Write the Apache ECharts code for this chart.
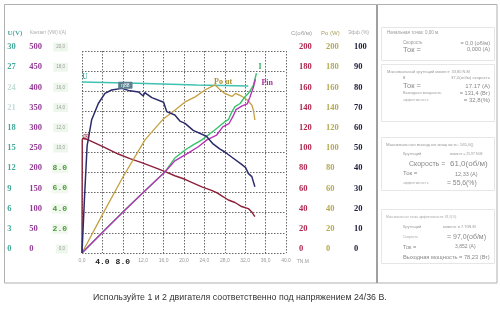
<!DOCTYPE html>
<html><head><meta charset="utf-8">
<script src="https://cdn.jsdelivr.net/npm/echarts@6/dist/echarts.min.js"></script>
<style>html,body{margin:0;padding:0;background:#fff}#c{width:500px;height:311px}</style>
</head><body><div id="c"></div>
<script>
// ---- tick labels ----
const xTicks   = ['0,0','4.0','8.0','12,0','16,0','20,0','24,0','28,0','32,0','36,0','40.0'];
const xBold    = [false,true,true,false,false,false,false,false,false,false,false];
const uTicks   = ['0','3','6','9','12','15','18','21','24','27','30'];
const uFaded   = [false,false,false,false,false,false,false,true,true,false,false];
const pinTicks = ['0','50','100','150','200','250','300','350','400','450','500'];
const iTicks   = ['0,0','2.0','4.0','6.0','8.0','10,0','12,0','14,0','16,0','18,0','20,0'];
const iBold    = [false,true,true,true,true,false,false,false,false,false,false];
const cTicks   = ['0','20','40','60','80','100','120','140','160','180','200'];
const poTicks  = ['0','20','40','60','80','100','120','140','160','180','200'];
const effTicks = ['0','10','20','30','40','50','60','70','80','90','100'];

// ---- series values (torque N.M -> value) ----
const uT   = [0, 10.7, 22.5, 32.6];
const uV   = [25.4, 25.2, 24.95, 24.8];
const effT = [0, 0.5, 1.0, 1.9, 3.2, 4.5, 5.8, 7.8, 9.1, 11.1, 12.0, 12.3, 13.7, 16.0, 16.3, 16.6, 18.2, 19.2, 20.2, 21.8, 24.4, 25.7, 27.0, 28.0, 29.4, 31.3, 32.1, 32.3, 32.6, 33.3, 33.9];
const effV = [0, 28, 53, 66, 74, 79, 80.7, 81.5, 80.5, 79.7, 77.7, 79.4, 76.9, 74.6, 75.4, 70, 68.3, 65.3, 64.2, 60.7, 57.8, 54, 51.5, 50, 47.4, 43.9, 42.2, 42.7, 39.4, 37.8, 32.8];
const cT   = [0, 0.05, 0.25, 1.0, 2.5, 4.2, 7.1, 9.4, 11.7, 14.3, 16.3, 18.2, 20.2, 21.5, 23.5, 25.4, 26.5, 27.4, 28.7, 30.0, 31.3, 32.6, 33.3, 33.9];
const cV   = [0, 112, 114, 112.5, 109, 105, 98, 93.5, 89.5, 84.5, 80.5, 76.5, 73, 70, 65.5, 62, 59.5, 56.5, 52.5, 50, 46, 44, 40.5, 36];
const poT  = [0, 4, 8, 12.35, 16.0, 18.2, 20.2, 22.2, 24.1, 25.4, 26.1, 27.0, 28.0, 29.4, 30.1, 31.4, 32.4, 33.3, 33.6, 33.9];
const poV  = [0, 38, 75, 112, 133, 141.3, 149.6, 154.6, 161.4, 164.7, 166.4, 162, 158, 155, 158, 155, 151.5, 146.5, 141.6, 131.7];
const iT   = [0, 4, 8, 12, 16.3, 18.2, 20.2, 21.8, 23.5, 26.1, 28.0, 28.7, 29.4, 30.0, 31.0, 32.0, 32.6, 32.9, 33.6, 34.2];
const iV   = [0, 2.05, 4.05, 6.0, 8.05, 9.4, 10.2, 10.7, 11.2, 12.2, 13.0, 13.2, 14.0, 14.5, 14.8, 15.5, 15.8, 16.0, 16.6, 17.8];
const pinT = [0, 4, 8, 12, 16.3, 18.2, 20.8, 22.8, 24.5, 26.4, 27.6, 28.8, 29.6, 30.2, 31.4, 32.4, 32.9, 33.6, 34.0];
const pinV = [0, 51, 101, 150, 201, 228, 247, 263, 280, 292, 312, 320, 338, 355, 364, 369, 385, 410, 430];

const zip = (a, b) => a.map((t, i) => [t, b[i]]);
const mono = 'Liberation Mono', serif = 'Liberation Serif', sans = 'Liberation Sans';

function yAx(pos, max, interval, ticks, margin, align, style, split) {
  return {
    type: 'value', position: pos, min: 0, max: max, interval: interval,
    axisLine: {show: false}, axisTick: {show: false},
    splitLine: split ? {show: true, lineStyle: {color: '#666', type: [1.5, 1.5], width: 1}} : {show: false},
    axisLabel: Object.assign({
      margin: margin, align: align, verticalAlign: 'bottom', lineHeight: 8,
      formatter: (v) => ticks[Math.round(v / interval)]
    }, style)
  };
}

const uStyle = {
  fontFamily: serif, fontWeight: 'bold', fontSize: 8.5, color: '#45a89a',
  formatter: (v) => { const k = Math.round(v / 3); return uFaded[k] ? '{f|' + uTicks[k] + '}' : uTicks[k]; },
  rich: {f: {fontFamily: serif, fontWeight: 'bold', fontSize: 8.5, color: '#c4dcd8'}}
};

const iStyle = {
  formatter: (v) => { const k = Math.round(v / 2); return iBold[k] ? '{b|' + iTicks[k] + '}' : '{s|' + iTicks[k] + '}'; },
  rich: {
    b: {fontFamily: mono, fontWeight: 'bold', fontSize: 8, color: '#4c9a3c', backgroundColor: '#f1f9ef', padding: [1, 1]},
    s: {fontFamily: sans, fontSize: 4.5, color: '#9a9a9a', backgroundColor: '#eef7ec', padding: [2, 3]}
  }
};

const chart = echarts.init(document.getElementById('c'), null, {renderer: 'canvas'});
const txt = (t, x, y, size, fill, extra) => ({type: 'text', x: x, y: y, style: Object.assign({text: t, fontSize: size, fill: fill, fontFamily: sans, verticalAlign: 'middle'}, extra || {})});
const rtx = (t, x, y, size, fill) => txt(t, x, y, size, fill, {align: 'right'});
const rect = (x, y, w, h, stroke, lw) => ({type: 'rect', shape: {x: x, y: y, width: w, height: h}, style: {fill: 'none', stroke: stroke, lineWidth: lw || 1}});

const graphics = [
  rect(4.5, 4.5, 492.5, 278.5, '#b0b0b0', 1),
  {type: 'line', shape: {x1: 377, y1: 5, x2: 377, y2: 283}, style: {stroke: '#a0a0a0', lineWidth: 2}},
  rect(381.5, 27.5, 113, 33, '#e6e6e6'),
  rect(381.5, 64.5, 113, 57, '#e6e6e6'),
  rect(381.5, 137.5, 113, 53, '#e6e6e6'),
  rect(381.5, 209.5, 113, 54, '#e6e6e6'),
  // headers
  txt('U(V)', 7.5, 33, 7, '#4aa8a0', {fontFamily: serif, fontWeight: 'bold'}),
  txt('Контакт (VW) I(A)', 30, 33, 4.5, '#aaaaaa'),
  txt('C(об/м)', 291, 33, 6, '#999999'),
  txt('Po (W)', 321, 33, 6, '#a9a060'),
  txt('Эфф (%)', 348, 33, 5, '#aaaaaa'),
  // caption
  txt('Используйте 1 и 2 двигателя соответственно под напряжением 24/36 В.', 93, 298, 8.8, '#333333'),
  // right panel box 1
  txt('Начальная точка: 0,00 м.', 387, 33, 4.5, '#999'),
  txt('Скорость', 403, 43, 4.5, '#999'),
  rtx('= 0,0 (об/м)', 490, 43, 5.6, '#888'),
  txt('Ток =', 403, 49.5, 7.5, '#888'),
  rtx('0,000 (A)', 490, 49.5, 5.6, '#888'),
  // box 2
  txt('Максимальный крутящий момент: 33,80 N.M', 387, 72, 4, '#999'),
  txt('в', 403, 78, 4.5, '#999'),
  rtx('37,0(об/м) скорость', 490, 78, 4.3, '#999'),
  txt('Ток =', 403, 86, 7.5, '#888'),
  rtx('17.17 (A)', 490, 86, 6, '#888'),
  txt('Выходная мощность', 403, 93, 4, '#999'),
  rtx('= 131,4 (Вт)', 490, 93, 5.6, '#888'),
  txt('эффективность', 403, 100, 3.5, '#aaa'),
  rtx('= 32,8(%)', 490, 100, 6, '#888'),
  // box 3
  txt('Максимальная выходная мощность: 165,6()', 386, 145, 4.3, '#999'),
  txt('Крутящий', 403, 154, 4, '#999'),
  txt('момент = 25,97 N.M', 450, 154, 3.5, '#999'),
  txt('Скорость =', 409, 164, 7, '#888'),
  txt('61,0(об/м)', 450, 163.5, 8, '#888'),
  txt('Ток =', 403, 173.5, 6, '#888'),
  txt('12,33 (A)', 455, 174, 5.5, '#888'),
  txt('эффективность', 403, 183, 3.5, '#aaa'),
  txt('= 55,6(%)', 447, 183.5, 6.8, '#888'),
  // box 4
  txt('Максимальная точка эффективности: 81,5(%)', 386, 217, 3.3, '#aaa'),
  txt('Крутящий', 403, 227, 4, '#999'),
  txt('момент = 7.70N.M', 443, 227, 3.9, '#999'),
  txt('Скорость', 403, 237, 3.5, '#aaa'),
  txt('= 97,0(об/м)', 447, 237, 7, '#888'),
  txt('Ток =', 403, 247, 5.5, '#888'),
  txt('3,852 (A)', 455, 247, 5, '#888'),
  txt('Выходная мощность = 78,23 (Вт)', 403, 257, 5.7, '#888')
];

const markLbl = (coord, text, color, offset, extra) => ({
  symbol: 'circle', symbolSize: 1, itemStyle: {color: 'rgba(0,0,0,0)'}, silent: true,
  label: {show: true, position: 'top', distance: 0},
  data: [{coord: coord, label: Object.assign({show: true, formatter: text, color: color, offset: offset, fontFamily: serif, fontWeight: 'bold', fontSize: 8}, extra || {})}]
});

chart.setOption({
  animation: false,
  backgroundColor: '#fff',
  grid: {left: 82, top: 51, width: 204, height: 202, containLabel: false},
  graphic: graphics,
  xAxis: {
    type: 'value', min: 0, max: 40, interval: 4,
    name: 'TN.M', nameLocation: 'end', nameGap: 10,
    nameTextStyle: {fontFamily: sans, fontSize: 5, color: '#999', verticalAlign: 'top', padding: [6, 0, 0, 0]},
    axisLine: {show: false}, axisTick: {show: false},
    splitLine: {show: true, lineStyle: {color: '#666', type: [1.5, 1.5], width: 1}},
    axisLabel: {
      margin: 5,
      formatter: (v) => { const k = Math.round(v / 4); return xBold[k] ? '{b|' + xTicks[k] + '}' : '{s|' + xTicks[k] + '}'; },
      rich: {
        b: {fontFamily: mono, fontWeight: 'bold', fontSize: 8, color: '#222'},
        s: {fontFamily: sans, fontSize: 5, color: '#999'}
      }
    }
  },
  yAxis: [
    yAx('left', 30, 3, uTicks, 74.7, 'left', uStyle, true),
    yAx('left', 500, 50, pinTicks, 52.7, 'left', {fontFamily: serif, fontWeight: 'bold', fontSize: 8.5, color: '#943a94'}, false),
    yAx('left', 20, 2, iTicks, 14, 'right', iStyle, false),
    yAx('right', 200, 20, cTicks, 13, 'left', {fontFamily: serif, fontWeight: 'bold', fontSize: 8.5, color: '#b0284e'}, false),
    yAx('right', 200, 20, poTicks, 40, 'left', {fontFamily: serif, fontWeight: 'bold', fontSize: 8.5, color: '#b4aa52'}, false),
    yAx('right', 100, 10, effTicks, 68, 'left', {fontFamily: serif, fontWeight: 'bold', fontSize: 8.5, color: '#1c1c3c'}, false)
  ],
  series: [
    {name: 'U', type: 'line', yAxisIndex: 0, data: zip(uT, uV), showSymbol: false, lineStyle: {color: '#3fc2b2', width: 1.4},
      markPoint: markLbl([0, 25.4], 'U', '#3fb0a2', [3, -1])},
    {name: 'C', type: 'line', yAxisIndex: 3, data: zip(cT, cV), showSymbol: false, lineStyle: {color: '#8e1f3a', width: 1.4},
      markPoint: markLbl([0.25, 114], 'S', '#8e1f3a', [3, 2], {fontSize: 5, borderColor: '#8e1f3a', borderWidth: 0.6, padding: [0, 1]})},
    {name: 'Po', type: 'line', yAxisIndex: 4, data: zip(poT, poV), showSymbol: false, lineStyle: {color: '#c4a040', width: 1.3},
      markPoint: markLbl([26.1, 166.4], 'Po ut', '#a89030', [8, 2])},
    {name: 'I', type: 'line', yAxisIndex: 2, data: zip(iT, iV), showSymbol: false, lineStyle: {color: '#35c46a', width: 1.4},
      endLabel: {show: true, formatter: 'I', color: '#35b060', fontFamily: serif, fontWeight: 'bold', fontSize: 8, offset: [-6, -6]}},
    {name: 'Pin', type: 'line', yAxisIndex: 1, data: zip(pinT, pinV), showSymbol: false, lineStyle: {color: '#b535b5', width: 1.4},
      endLabel: {show: true, formatter: 'Pin', color: '#a8309c', fontFamily: serif, fontWeight: 'bold', fontSize: 8, offset: [-2, 4]}},
    {name: 'Eff', type: 'line', yAxisIndex: 5, data: zip(effT, effV), showSymbol: false, lineStyle: {color: '#2b2b6b', width: 1.5},
      markPoint: markLbl([8.5, 81.5], 'ŋ88', '#ffffff', [0, 1], {fontFamily: sans, fontWeight: 'normal', fontSize: 5, backgroundColor: '#5a7f8f', padding: [1, 3], borderRadius: 1})}
  ]
});
</script>
</body></html>
